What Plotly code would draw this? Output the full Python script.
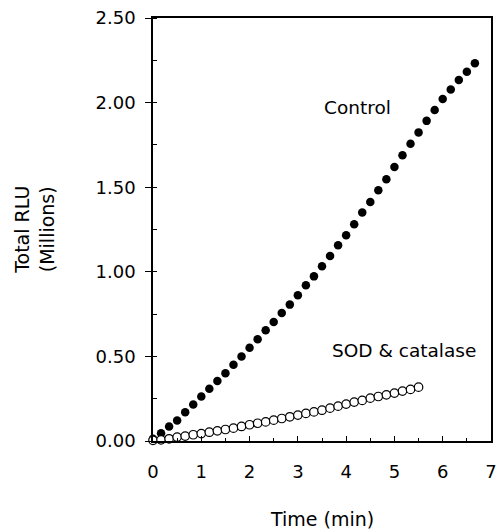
import plotly.graph_objects as go

step = 1.0 / 6.0  # readings every 10 s

control_rlu = [0.013, 0.046, 0.086, 0.121, 0.170, 0.216, 0.263, 0.309, 0.354, 0.401,
               0.451, 0.500, 0.551, 0.602, 0.654, 0.703, 0.756, 0.806, 0.861, 0.920,
               0.973, 1.033, 1.094, 1.157, 1.216, 1.281, 1.350, 1.413, 1.482, 1.547,
               1.620, 1.689, 1.757, 1.824, 1.892, 1.956, 2.021, 2.078, 2.133, 2.182,
               2.232]
sod_rlu = [0.004, 0.007, 0.013, 0.023, 0.029, 0.037, 0.044, 0.052, 0.060, 0.068,
           0.076, 0.086, 0.096, 0.105, 0.113, 0.123, 0.133, 0.143, 0.153, 0.163,
           0.172, 0.182, 0.194, 0.206, 0.218, 0.230, 0.240, 0.253, 0.263, 0.273,
           0.283, 0.295, 0.305, 0.318]
control_time = [i * step for i in range(len(control_rlu))]
sod_time = [i * step for i in range(len(sod_rlu))]

x_ticks = [0, 1, 2, 3, 4, 5, 6, 7]
y_ticks = [0.0, 0.5, 1.0, 1.5, 2.0, 2.5]
y_tick_labels = ["0.00", "0.50", "1.00", "1.50", "2.00", "2.50"]

FONT = "DejaVu Sans"

fig = go.Figure()
fig.add_trace(go.Scatter(
    x=control_time, y=control_rlu, mode="markers", name="Control",
    marker=dict(symbol="circle", size=8.5, color="black", line=dict(width=0)),
    cliponaxis=False,
))
fig.add_trace(go.Scatter(
    x=sod_time, y=sod_rlu, mode="markers", name="SOD & catalase",
    marker=dict(symbol="circle", size=8.5, color="white",
                line=dict(width=1.2, color="black")),
    cliponaxis=False,
))

fig.update_layout(
    width=503, height=531,
    margin=dict(l=153, r=6, t=18, b=90),
    paper_bgcolor="white", plot_bgcolor="white",
    showlegend=False,
    font=dict(family=FONT, size=16, color="black"),
    xaxis=dict(
        range=[0, 7], tickvals=x_ticks, ticktext=[str(v) for v in x_ticks],
        showgrid=False, zeroline=False,
        showline=True, linecolor="black", linewidth=1.5, mirror=True,
        ticks="inside", ticklen=5, tickwidth=1.2, tickcolor="black",
        minor=dict(dtick=0.5, ticks="inside", ticklen=3, tickwidth=1, tickcolor="black"),
        tickfont=dict(family=FONT, size=18), ticklabelstandoff=14,
        ticklabeloverflow="allow",
    ),
    yaxis=dict(
        range=[0, 2.5], tickvals=y_ticks, ticktext=y_tick_labels,
        showgrid=False, zeroline=False,
        showline=True, linecolor="black", linewidth=1.5, mirror=True,
        ticks="outside", ticklen=6, tickwidth=1.2, tickcolor="black",
        minor=dict(dtick=0.25, ticks="inside", ticklen=4, tickwidth=1, tickcolor="black"),
        tickfont=dict(family=FONT, size=18), ticklabelstandoff=6,
        ticklabeloverflow="allow",
    ),
    annotations=[
        dict(text="Control", x=4.23, y=1.97, xref="x", yref="y",
             showarrow=False, font=dict(family=FONT, size=18.5)),
        dict(text="SOD &amp; catalase", x=5.19, y=0.535, xref="x", yref="y",
             showarrow=False, font=dict(family=FONT, size=18.5)),
        dict(text="Time (min)", x=0.5, y=-0.184, xref="paper", yref="paper",
             xanchor="center", yanchor="middle", showarrow=False,
             font=dict(family=FONT, size=19)),
        dict(text="Total RLU<br>(Millions)", x=-0.351, y=0.5, xref="paper", yref="paper",
             xanchor="center", yanchor="middle", textangle=-90, showarrow=False,
             font=dict(family=FONT, size=19)),
    ],
)

# remove the browser's default 8px page margin so the figure fills the window
fig.write_html(
    "out.html",
    config={"displayModeBar": False},
    post_script="document.body.style.margin='0';document.body.style.overflow='hidden';",
)
